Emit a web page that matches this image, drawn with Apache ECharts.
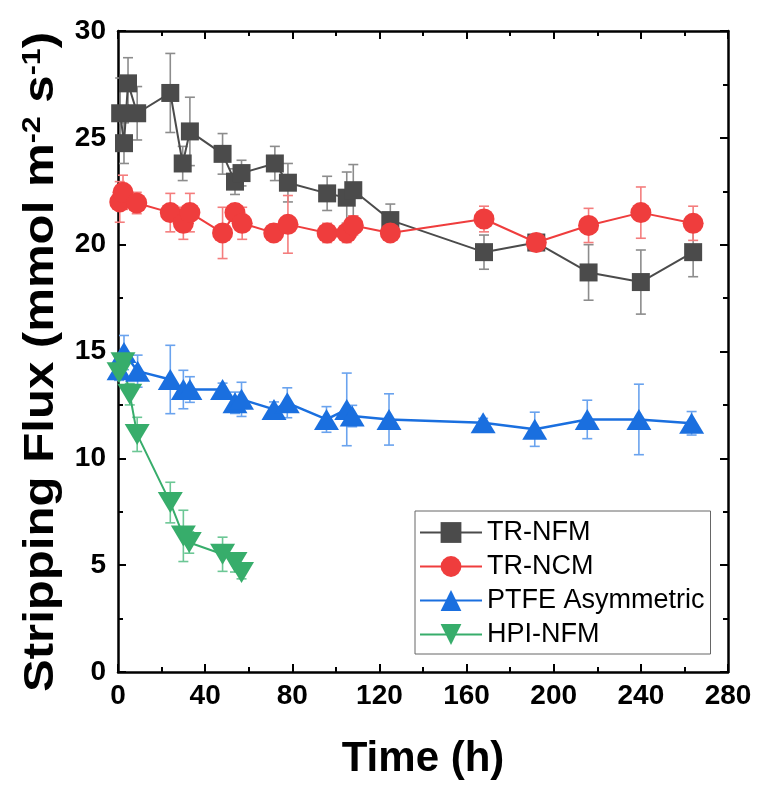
<!DOCTYPE html>
<html>
<head>
<meta charset="utf-8">
<script src="https://cdn.jsdelivr.net/npm/echarts@6/dist/echarts.min.js"></script>
<style>
  html, body { margin: 0; padding: 0; background: #fff; }
  #chart { width: 757px; height: 785px; }
</style>
</head>
<body>
<div id="chart"></div>
<script>
// Stripping flux vs. time for four membranes (mean ± error)
const xTicks = [0, 40, 80, 120, 160, 200, 240, 280];
const yTicks = [0, 5, 10, 15, 20, 25, 30];

const nfmTime = [1, 2.75, 4.6, 8.8, 24, 29.7, 33, 48, 53.7, 56.7, 72, 78, 96, 105, 108, 125, 168, 192, 216, 240, 264];
const nfmFlux = [26.15, 24.75, 27.55, 26.15, 27.1, 23.8, 25.3, 24.25, 22.95, 23.35, 23.8, 22.9, 22.4, 22.2, 22.55, 21.15, 19.65, 20.1, 18.7, 18.25, 19.65];
const nfmErr  = [1.65, 0.95, 1.2, 1.25, 1.85, 0.8, 1.6, 0.95, 0.6, 0.6, 0.8, 0.9, 0.8, 1.2, 1.2, 0.75, 0.8, 0.25, 1.3, 1.5, 1.15];

const ncmTime = [0.8, 2.3, 8.6, 24, 30, 33, 48, 53.7, 57, 71.5, 78, 96, 105, 108, 125, 168, 192, 216, 240, 264];
const ncmFlux = [22.0, 22.45, 21.95, 21.5, 21.0, 21.5, 20.55, 21.5, 21.0, 20.55, 20.95, 20.55, 20.55, 20.9, 20.55, 21.2, 20.1, 20.9, 21.5, 21.0];
const ncmErr  = [0.95, 0.8, 0.5, 0.9, 0.75, 0.9, 1.2, 0.4, 0.75, 0.4, 1.35, 0.45, 0.45, 0.45, 0.3, 0.6, 0.2, 0.8, 1.2, 0.8];

const ptfeTime = [0.5, 2.75, 9, 24, 30, 33, 48, 53.7, 56.7, 71.6, 77.7, 95.7, 105, 107.5, 124.4, 167.6, 191.3, 215.4, 239.1, 263.3];
const ptfeFlux = [14.15, 14.95, 14.08, 13.69, 13.22, 13.22, 13.22, 12.6, 12.76, 12.29, 12.6, 11.82, 12.29, 11.98, 11.82, 11.67, 11.36, 11.82, 11.82, 11.64];
const ptfeErr  = [0.5, 0.8, 0.75, 1.6, 0.9, 0.6, 0.3, 0.5, 0.8, 0.35, 0.7, 0.6, 1.7, 0.5, 1.2, 0.2, 0.8, 0.9, 1.65, 0.55];

const hpiTime = [0.5, 2.3, 5.4, 8.8, 24, 30, 32.7, 48, 53.7, 56.7];
const hpiFlux = [14.0, 14.47, 13.0, 11.12, 7.93, 6.37, 6.06, 5.51, 5.13, 4.66];
const hpiErr  = [0.3, 0.3, 0.5, 0.8, 0.95, 1.2, 0.5, 0.8, 0.45, 0.3];

const FONT = "'Liberation Sans', Arial, sans-serif";

function pairs(xs, ys) { return xs.map((x, i) => [x, ys[i]]); }

function lineSeries(name, xs, ys, color, symbol, size, lw) {
  return {
    name: name, type: 'line', data: pairs(xs, ys), z: 3,
    symbol: symbol, symbolSize: size,
    itemStyle: { color: color },
    lineStyle: { color: color, width: lw },
    emphasis: { disabled: true }, animation: false
  };
}

function errorSeries(xs, ys, es, color) {
  return {
    type: 'custom', silent: true, z: 2, animation: false,
    data: xs.map((x, i) => [x, ys[i] - es[i], ys[i] + es[i]]),
    encode: { x: 0, y: [1, 2] },
    renderItem: function (params, api) {
      const lo = api.coord([api.value(0), api.value(1)]);
      const hi = api.coord([api.value(0), api.value(2)]);
      const w = 5;
      const st = { stroke: color, lineWidth: 1.6 };
      return { type: 'group', children: [
        { type: 'line', shape: { x1: lo[0], y1: lo[1], x2: hi[0], y2: hi[1] }, style: st },
        { type: 'line', shape: { x1: lo[0] - w, y1: lo[1], x2: lo[0] + w, y2: lo[1] }, style: st },
        { type: 'line', shape: { x1: hi[0] - w, y1: hi[1], x2: hi[0] + w, y2: hi[1] }, style: st }
      ]};
    }
  };
}

const axisLine = { show: true, onZero: false, lineStyle: { color: '#000', width: 2.5 } };
const tick = { show: true, inside: true, length: 8, lineStyle: { color: '#000', width: 2 } };
const minor = { show: true, splitNumber: 2, length: 5, lineStyle: { color: '#000', width: 2 } };
const labelStyle = { color: '#000', fontFamily: FONT, fontWeight: 'bold', fontSize: 28 };

function xAx(pos, show) {
  return {
    type: 'value', position: pos, min: xTicks[0], max: xTicks[xTicks.length - 1],
    interval: xTicks[1] - xTicks[0],
    axisLine: axisLine, axisTick: tick, minorTick: minor,
    splitLine: { show: false },
    axisLabel: Object.assign({ show: show, margin: 10 }, labelStyle),
    name: show ? 'Time (h)' : '', nameLocation: 'middle', nameGap: 66,
    nameTextStyle: { color: '#000', fontFamily: FONT, fontWeight: 'bold', fontSize: 42 }
  };
}

function yAx(pos, show) {
  return {
    type: 'value', position: pos, min: yTicks[0], max: yTicks[yTicks.length - 1],
    interval: yTicks[1] - yTicks[0],
    axisLine: axisLine, axisTick: tick, minorTick: minor,
    splitLine: { show: false },
    axisLabel: Object.assign({ show: show, margin: 12 }, labelStyle)
  };
}

const downTri = 'path://M0,0L20,0L10,17Z';

const chart = echarts.init(document.getElementById('chart'), null, { renderer: 'canvas' });
chart.setOption({
  backgroundColor: '#fff',
  animation: false,
  grid: { left: 118, right: 29, top: 31, bottom: 112, containLabel: false },
  xAxis: [xAx('bottom', true), xAx('top', false)],
  yAxis: [yAx('left', true), yAx('right', false)],
  graphic: [{
    // vertical axis title, stretched along its baseline
    type: 'text', x: 41, y: 362, rotation: Math.PI / 2, scaleX: 1.17, silent: true,
    style: {
      text: '{t|Stripping Flux (mmol m}{s|-2}{t| s}{s|-1}{t|)}',
      align: 'center', verticalAlign: 'middle',
      rich: {
        t: { fill: '#000', fontFamily: FONT, fontWeight: 'bold', fontSize: 42 },
        s: { fill: '#000', fontFamily: FONT, fontWeight: 'bold', fontSize: 26, verticalAlign: 'top' }
      }
    }
  }],
  legend: {
    data: ['TR-NFM', 'TR-NCM', 'PTFE Asymmetric', 'HPI-NFM'],
    orient: 'vertical', left: 415, top: 511,
    itemWidth: 62, itemHeight: 26, itemGap: 7,
    padding: [8, 6, 6, 4],
    borderColor: '#666', borderWidth: 1, backgroundColor: '#fff',
    textStyle: { color: '#000', fontFamily: FONT, fontSize: 27 }
  },
  series: [
    errorSeries(nfmTime, nfmFlux, nfmErr, '#8c8c8c'),
    lineSeries('TR-NFM', nfmTime, nfmFlux, '#4b4b4b', 'rect', 18, 2),
    errorSeries(ncmTime, ncmFlux, ncmErr, '#f47d7d'),
    lineSeries('TR-NCM', ncmTime, ncmFlux, '#ef3d3d', 'circle', 21, 2),
    errorSeries(ptfeTime, ptfeFlux, ptfeErr, '#6aa3ee'),
    lineSeries('PTFE Asymmetric', ptfeTime, ptfeFlux, '#1a6fdf', 'triangle', [25, 21], 2.5),
    errorSeries(hpiTime, hpiFlux, hpiErr, '#6cc795'),
    lineSeries('HPI-NFM', hpiTime, hpiFlux, '#37ad6b', downTri, [25, 21], 2)
  ]
});
</script>
</body>
</html>
